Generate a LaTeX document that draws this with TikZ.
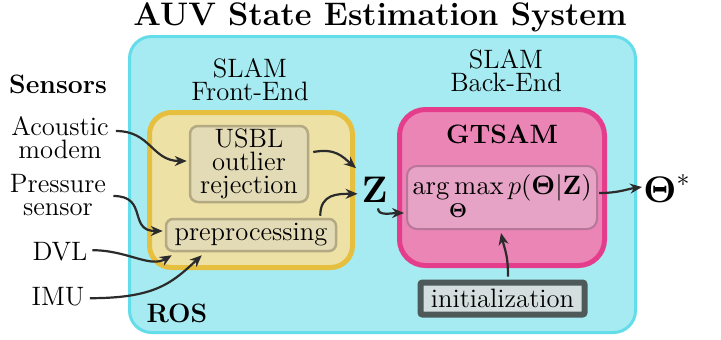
\RequirePackage{fix-cm}
\documentclass[tikz,border=0pt]{standalone}
\usepackage{amsmath}
\usetikzlibrary{arrows.meta}
\DeclareFontShape{OT1}{cmr}{m}{n}{<->cmr10}{}
\DeclareFontShape{OT1}{cmr}{bx}{n}{<->cmbx10}{}
\DeclareMathSizes{13.3}{13.3}{10}{7.5}
\definecolor{rosfill}{HTML}{A6EBF1}
\definecolor{rosdraw}{HTML}{63DDE9}
\definecolor{frontfill}{HTML}{EDE1A6}
\definecolor{frontdraw}{HTML}{E6BF3F}
\definecolor{usblfill}{HTML}{E3DAB6}
\definecolor{usbldraw}{HTML}{B3A983}
\definecolor{backfill}{HTML}{EB85B6}
\definecolor{backdraw}{HTML}{E43D8B}
\definecolor{optfill}{HTML}{E6A3C5}
\definecolor{optdraw}{HTML}{B8769A}
\definecolor{initfill}{HTML}{D4DEDE}
\definecolor{initdraw}{HTML}{4E5A5A}
\definecolor{arrowc}{HTML}{2B2B2B}
\begin{document}
\begin{tikzpicture}[x=0.5pt,y=-0.5pt,
  txt/.style={font=\fontsize{13.3}{11.5}\selectfont, inner sep=0pt, align=center},
  boldtxt/.style={font=\fontsize{13.3}{11.5}\selectfont\bfseries, inner sep=0pt},
  titletxt/.style={font=\fontsize{16.3}{19}\selectfont\bfseries, inner sep=0pt},
  bigmath/.style={font=\fontsize{18.5}{20}\selectfont, inner sep=0pt},
  panel/.style={rectangle, inner sep=0pt, draw},
  rosbox/.style={panel, fill=rosfill, draw=rosdraw, line width=1.5pt, rounded corners=11pt, minimum width=253pt, minimum height=148pt},
  frontbox/.style={panel, fill=frontfill, draw=frontdraw, line width=2.5pt, rounded corners=11pt, minimum width=101.5pt, minimum height=77.5pt},
  usblbox/.style={panel, txt, fill=usblfill, draw=usbldraw, line width=1.25pt, rounded corners=4pt, minimum width=59pt, minimum height=38pt},
  prepbox/.style={panel, txt, fill=usblfill, draw=usbldraw, line width=1.25pt, rounded corners=3.5pt, minimum width=85pt, minimum height=16pt},
  backbox/.style={panel, fill=backfill, draw=backdraw, line width=2.5pt, rounded corners=13pt, minimum width=102.5pt, minimum height=78pt},
  optbox/.style={panel, txt, fill=optfill, draw=optdraw, line width=1pt, rounded corners=5pt, minimum width=95pt, minimum height=31.5pt},
  initbox/.style={panel, txt, fill=initfill, draw=initdraw, line width=3pt, rounded corners=1pt, minimum width=82pt, minimum height=16pt},
  arr/.style={draw=arrowc, line width=1.1pt, -{Stealth[length=6pt,width=5pt]}}
]
\useasboundingbox (0,0) rectangle (721,339);

% containers
\node[rosbox] (ros) at (382.5,184.5) {};
\node[frontbox] (front) at (251,190) {};
\node[backbox] (back) at (502,187.5) {};

% inner boxes
\node[usblbox] (usbl) at (249,164) {USBL\\outlier\\rejection};
\node[prepbox] (prep) at (251,235) {preprocessing};
\node[optbox] (opt) at (502,197.5) {$\displaystyle\operatorname*{arg\,max}_{\boldsymbol{\Theta}} p(\boldsymbol{\Theta}|\mathbf{Z})$};
\node[initbox] (init) at (502.5,298.5) {initialization};

% labels
\node[titletxt, anchor=base] (title) at (380,25) {AUV State Estimation System};
\node[boldtxt, anchor=base] (sensors) at (58,93) {Sensors};
\node[boldtxt, anchor=base] (roslabel) at (177,322) {ROS};
\node[boldtxt, anchor=base] (gtsam) at (502,143) {GTSAM};
\node[txt] (frontlabel) at (250,80) {SLAM\\Front-End};
\node[txt] (backlabel) at (506,71) {SLAM\\Back-End};

% sensors
\node[txt] (acoustic) at (60,138) {Acoustic\\modem};
\node[txt] (pressure) at (58,195) {Pressure\\sensor};
\node[txt, anchor=base] (dvl) at (60,260) {DVL};
\node[txt, anchor=base] (imu) at (58,305) {IMU};

% Z and Theta*
\node[bigmath, anchor=base] (z) at (374.5,202) {$\mathbf{Z}$};
\node[bigmath, anchor=base west] (theta) at (643,202) {$\boldsymbol{\Theta}^*$};

% connectors
\draw[arr] ([shift={(7,-7)}]acoustic.east) .. controls +(35,0) and +(-35,0) .. ([shift={(-2,-3)}]usbl.west);
\draw[arr] ([shift={(7,1)}]pressure.east) .. controls +(35,0) and +(-35,0) .. ([shift={(-2,-4)}]prep.west);
\draw[arr] ([shift={(4.5,-1)}]dvl.east) .. controls +(35,0) and +(-22,13) .. ([shift={(7,3)}]prep.south west);
\draw[arr] ([shift={(5,2)}]imu.east) .. controls +(65,0) and +(-30,28) .. ([shift={(37,3)}]prep.south west);
\draw[arr] ([shift={(4,-12)}]usbl.east) .. controls +(22,-4) and +(-14,-12) .. ([shift={(-5,-8)}]z.north west);
\draw[arr] ([shift={(-17,-2)}]prep.north east) .. controls +(0,-22) and +(-20,0) .. ([shift={(-3.5,4.5)}]z.west);
\draw[arr] ([shift={(3.5,6)}]z.south) .. controls +(0,8) and +(-12,0) .. ([shift={(-2,15.5)}]opt.west);
\draw[arr] ([shift={(1,-4.5)}]opt.east) .. controls +(20,0) and +(-15,2) .. ([shift={(-1,-15)}]theta.base west);
\draw[arr] ([shift={(5.5,-3)}]init.north) .. controls +(0,-22) and +(4,18) .. ([shift={(-1,3)}]opt.south);
\end{tikzpicture}
\end{document}
